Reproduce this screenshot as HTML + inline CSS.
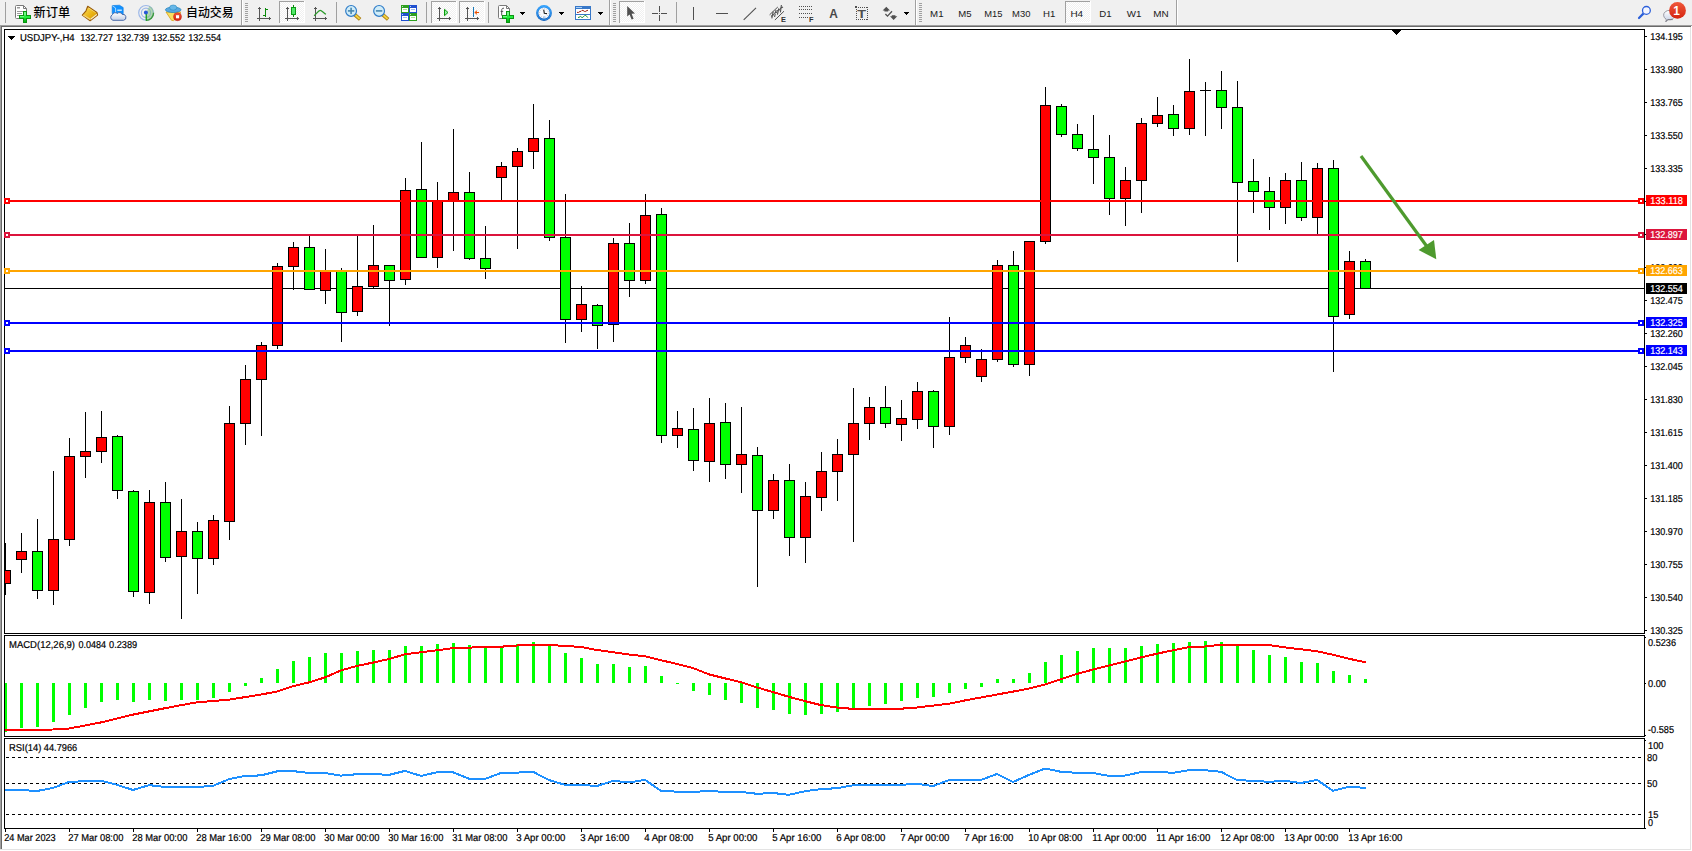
<!DOCTYPE html>
<html lang="zh-CN"><head><meta charset="utf-8"><title>USDJPY-,H4</title>
<style>
html,body{margin:0;padding:0;}
body{width:1692px;height:851px;overflow:hidden;background:#fff;position:relative;font-family:'Liberation Sans', 'Noto Sans CJK SC', sans-serif;}
#tb{position:absolute;left:0;top:0;width:1692px;height:25px;background:#f0f0f0;}
</style></head><body>
<div id="tb">
<svg width="1692" height="25" viewBox="0 0 1692 25" style="position:absolute;left:0;top:0" shape-rendering="crispEdges">
<defs>
<linearGradient id="gplus" x1="0" y1="0" x2="0" y2="1"><stop offset="0" stop-color="#7dff8a"/><stop offset="0.5" stop-color="#10e428"/><stop offset="1" stop-color="#08b418"/></linearGradient>
<linearGradient id="ggold" x1="0" y1="0" x2="1" y2="1"><stop offset="0" stop-color="#ffe060"/><stop offset="0.6" stop-color="#e8b010"/><stop offset="1" stop-color="#c88a10"/></linearGradient>
<linearGradient id="gcloud" x1="0" y1="0" x2="0" y2="1"><stop offset="0" stop-color="#ffffff"/><stop offset="1" stop-color="#c4cfe4"/></linearGradient>
<linearGradient id="gred" x1="0" y1="0" x2="0" y2="1"><stop offset="0" stop-color="#f0583a"/><stop offset="1" stop-color="#d42410"/></linearGradient>
<linearGradient id="gclock" x1="0" y1="0" x2="0" y2="1"><stop offset="0" stop-color="#2ea0ff"/><stop offset="1" stop-color="#0450b0"/></linearGradient>
<pattern id="dith" width="2" height="2" patternUnits="userSpaceOnUse"><rect width="2" height="2" fill="#f0f0f0"/><rect width="1" height="1" fill="#fff"/><rect x="1" y="1" width="1" height="1" fill="#fff"/></pattern>
</defs>
<rect x="5" y="2" width="1" height="21" fill="#a0a0a0"/>
<g shape-rendering="geometricPrecision">
<path d="M16.5,5.5h7l3,3v10h-10a1,1 0 0 1 -1,-1v-11a1,1 0 0 1 1,-1z" fill="#fff" stroke="#7a7a7a"/>
<path d="M23.5,5.5v3h3" fill="none" stroke="#7a7a7a"/>
<rect x="17" y="7" width="3" height="1.5" fill="#999"/><rect x="17" y="11" width="6" height="1" fill="#999"/><rect x="17" y="13" width="5" height="1" fill="#999"/><rect x="17" y="15" width="3" height="1" fill="#999"/>
</g>
<rect x="23" y="11" width="4" height="12" fill="#0c9412"/><rect x="19" y="15" width="12" height="4" fill="#0c9412"/>
<rect x="24" y="12" width="2" height="10" fill="url(#gplus)"/><rect x="20" y="16" width="10" height="2" fill="#22ee3c"/>
<rect x="24" y="12" width="2" height="3" fill="#70f884"/><rect x="20" y="16" width="4" height="1" fill="#70f884"/>
<g shape-rendering="geometricPrecision">
<path d="M87.7,6.3 L96.9,12.5 L97.6,15 L90.1,20.7 L82.3,15.1 L86,10.8 Z" fill="url(#ggold)" stroke="#9a5c0a" stroke-width="1.1" stroke-linejoin="round"/>
<path d="M83.2,14.6 L90.3,18.4 L89.9,20 L82.9,15.4 Z" fill="#f4d478"/>
<path d="M90.6,18.6 L96.8,13.8 L97,15 L90.6,19.9 Z" fill="#f6ecc8"/>
<path d="M87.9,7.4 L95.6,12.6" fill="none" stroke="#fff2a0" stroke-width="0.8" stroke-opacity="0.7"/>
</g>
<g shape-rendering="geometricPrecision">
<path d="M112.2,5.6 L119.5,5.2 L123.2,7.5 L123.2,15 L115.5,15 L112.2,13.5 Z" fill="#1292ff" stroke="#0a78e0" stroke-width="0.6"/>
<path d="M112.4,5.8 L115.6,8 L115.6,15" fill="none" stroke="#c8e8ff" stroke-width="0.8"/>
<rect x="117.3" y="9.6" width="4.5" height="1.2" fill="#e8f4ff"/>
<path d="M113,20.3 a3,3 0 0 1 -0.6,-5.6 a3.2,3.2 0 0 1 5,-1.3 a3,3 0 0 1 4.8,1 a2.9,2.9 0 0 1 1.4,5.9 z" fill="url(#gcloud)" stroke="#4a6aa8" stroke-width="1"/>
</g>
<g shape-rendering="geometricPrecision">
<circle cx="146" cy="12.8" r="7.3" fill="none" stroke="#9db8e8" stroke-width="1.2"/>
<circle cx="146" cy="12.8" r="4.6" fill="none" stroke="#9db8e8" stroke-width="1.2"/>
<path d="M146,12.8 L146,20.6 A7.8,7.8 0 0 0 153.8,12.8 A7.8,7.8 0 0 0 149.5,5.9 Z" fill="#7fc07f" fill-opacity="0.55"/>
<path d="M146,20.4 A7.6,7.6 0 0 0 153.6,12.8" fill="none" stroke="#3a9a3a" stroke-width="1.3"/>
<rect x="145.6" y="13" width="1.3" height="7.6" fill="#18a018"/>
<circle cx="145.9" cy="12.6" r="2" fill="#2858d8"/>
</g>
<g shape-rendering="geometricPrecision">
<path d="M166,12 L180.6,12 L179,16 L173.5,20.6 L171.5,20.3 Z" fill="#f8e060" stroke="#d8a010" stroke-width="0.8"/>
<ellipse cx="173.2" cy="9.8" rx="7.8" ry="2.7" fill="#58a8e0" stroke="#2888c0" stroke-width="0.8"/>
<ellipse cx="173.2" cy="7.6" rx="3.6" ry="2.6" fill="#68b8e8" stroke="#2888c0" stroke-width="0.6"/>
<circle cx="177.5" cy="16.7" r="4" fill="url(#gred)" stroke="#c02010" stroke-width="0.5"/>
<rect x="176" y="15.2" width="3.1" height="3.1" fill="#fff"/>
</g>
<rect x="241" y="0" width="1" height="25" fill="#a0a0a0"/><rect x="242" y="0" width="1" height="25" fill="#fff"/>
<rect x="245" y="3" width="3" height="1" fill="#a0a0a0"/>
<rect x="245" y="5" width="3" height="1" fill="#a0a0a0"/>
<rect x="245" y="7" width="3" height="1" fill="#a0a0a0"/>
<rect x="245" y="9" width="3" height="1" fill="#a0a0a0"/>
<rect x="245" y="11" width="3" height="1" fill="#a0a0a0"/>
<rect x="245" y="13" width="3" height="1" fill="#a0a0a0"/>
<rect x="245" y="15" width="3" height="1" fill="#a0a0a0"/>
<rect x="245" y="17" width="3" height="1" fill="#a0a0a0"/>
<rect x="245" y="19" width="3" height="1" fill="#a0a0a0"/>
<rect x="245" y="21" width="3" height="1" fill="#a0a0a0"/>
<rect x="259" y="7" width="1" height="14" fill="#555"/><rect x="258" y="8" width="3" height="1" fill="#555"/>
<rect x="257" y="18" width="14" height="1" fill="#555"/><rect x="269" y="17" width="1" height="3" fill="#555"/>
<rect x="265" y="8" width="1" height="9" fill="#0a8a0a"/><rect x="265" y="9" width="3" height="1" fill="#0a8a0a"/><rect x="263" y="15" width="3" height="1" fill="#0a8a0a"/>
<rect x="279" y="1" width="25" height="22" fill="url(#dith)"/>
<rect x="279" y="22" width="26" height="1" fill="#fff"/><rect x="304" y="1" width="1" height="22" fill="#fff"/>
<rect x="279" y="1" width="25" height="1" fill="#a0a0a0"/><rect x="279" y="1" width="1" height="22" fill="#a0a0a0"/>
<rect x="287" y="7" width="1" height="14" fill="#555"/><rect x="286" y="8" width="3" height="1" fill="#555"/>
<rect x="285" y="18" width="14" height="1" fill="#555"/><rect x="297" y="17" width="1" height="3" fill="#555"/>
<rect x="293" y="5" width="1" height="12" fill="#0a8a0a"/><rect x="291" y="7" width="5" height="8" fill="#0a9a14"/><rect x="292" y="8" width="3" height="6" fill="#50e868"/>
<rect x="315" y="7" width="1" height="14" fill="#555"/><rect x="314" y="8" width="3" height="1" fill="#555"/>
<rect x="313" y="18" width="14" height="1" fill="#555"/><rect x="325" y="17" width="1" height="3" fill="#555"/>
<path shape-rendering="geometricPrecision" d="M314,15.7 C316,15 318,10.4 320.2,10.4 C322,10.4 324,13.6 326,14.2" fill="none" stroke="#2a9a2a" stroke-width="1.2"/>
<rect x="336" y="2" width="1" height="21" fill="#a0a0a0"/>
<g shape-rendering="geometricPrecision">
<path d="M354.70000000000005,14.6 L360.1,19.4" stroke="#a87808" stroke-width="3.6" stroke-linecap="butt"/>
<path d="M355.3,15.1 L359.70000000000005,19" stroke="#f0d040" stroke-width="2" stroke-linecap="butt"/>
<circle cx="351.1" cy="10.9" r="5.4" fill="#d0ecf8" stroke="#2e7cc8" stroke-width="1.2"/>
<rect x="347.90000000000003" y="10.1" width="6.4" height="1.6" fill="#4888b0"/>
<rect x="350.3" y="7.7" width="1.6" height="6.4" fill="#4888b0"/>
</g>
<g shape-rendering="geometricPrecision">
<path d="M382.70000000000005,14.6 L388.1,19.4" stroke="#a87808" stroke-width="3.6" stroke-linecap="butt"/>
<path d="M383.3,15.1 L387.70000000000005,19" stroke="#f0d040" stroke-width="2" stroke-linecap="butt"/>
<circle cx="379.1" cy="10.9" r="5.4" fill="#d0ecf8" stroke="#2e7cc8" stroke-width="1.2"/>
<rect x="375.90000000000003" y="10.1" width="6.4" height="1.6" fill="#4888b0"/>
</g>
<rect x="401" y="5" width="8" height="8" fill="#2ea020"/>
<rect x="402" y="8" width="6" height="4" fill="#fff"/>
<rect x="403" y="9" width="4" height="1" fill="#a8e090"/>
<rect x="402" y="6" width="1" height="1" fill="#fff" fill-opacity="0.7"/>
<rect x="409" y="5" width="8" height="8" fill="#2050d0"/>
<rect x="410" y="8" width="6" height="4" fill="#fff"/>
<rect x="411" y="9" width="4" height="1" fill="#a0b8f0"/>
<rect x="410" y="6" width="1" height="1" fill="#fff" fill-opacity="0.7"/>
<rect x="401" y="13" width="8" height="8" fill="#2050d0"/>
<rect x="402" y="16" width="6" height="4" fill="#fff"/>
<rect x="403" y="17" width="4" height="1" fill="#a0b8f0"/>
<rect x="402" y="14" width="1" height="1" fill="#fff" fill-opacity="0.7"/>
<rect x="409" y="13" width="8" height="8" fill="#2ea020"/>
<rect x="410" y="16" width="6" height="4" fill="#fff"/>
<rect x="411" y="17" width="4" height="1" fill="#a8e090"/>
<rect x="410" y="14" width="1" height="1" fill="#fff" fill-opacity="0.7"/>
<rect x="426" y="2" width="1" height="21" fill="#a0a0a0"/>
<rect x="431" y="1" width="25" height="22" fill="url(#dith)"/>
<rect x="431" y="22" width="26" height="1" fill="#fff"/><rect x="456" y="1" width="1" height="22" fill="#fff"/>
<rect x="431" y="1" width="25" height="1" fill="#a0a0a0"/><rect x="431" y="1" width="1" height="22" fill="#a0a0a0"/>
<rect x="439" y="7" width="1" height="14" fill="#555"/><rect x="438" y="8" width="3" height="1" fill="#555"/>
<rect x="437" y="18" width="14" height="1" fill="#555"/><rect x="449" y="17" width="1" height="3" fill="#555"/>
<path shape-rendering="geometricPrecision" d="M444.5,9.3 L448,12.5 L444.5,15.7 Z" fill="#90f0a0" stroke="#0a9a0a" stroke-width="1"/>
<rect x="459" y="1" width="25" height="22" fill="url(#dith)"/>
<rect x="459" y="22" width="26" height="1" fill="#fff"/><rect x="484" y="1" width="1" height="22" fill="#fff"/>
<rect x="459" y="1" width="25" height="1" fill="#a0a0a0"/><rect x="459" y="1" width="1" height="22" fill="#a0a0a0"/>
<rect x="467" y="7" width="1" height="14" fill="#555"/><rect x="466" y="8" width="3" height="1" fill="#555"/>
<rect x="465" y="18" width="14" height="1" fill="#555"/><rect x="477" y="17" width="1" height="3" fill="#555"/>
<rect x="473" y="7" width="1" height="10" fill="#1878b8"/>
<path shape-rendering="geometricPrecision" d="M474.3,12.5 L477.2,10 L476.6,12 L479,12 L479,13 L476.6,13 L477.2,15 Z" fill="#e85000"/>
<rect x="488" y="2" width="1" height="21" fill="#a0a0a0"/>
<g shape-rendering="geometricPrecision">
<path d="M499.5,5.5h7l3,3v10h-10a1,1 0 0 1 -1,-1v-11a1,1 0 0 1 1,-1z" fill="#fff" stroke="#7a7a7a"/>
<path d="M506.5,5.5v3h3" fill="none" stroke="#7a7a7a"/>
<path d="M504,8.2 c-1.8,-0.2 -2.3,0.8 -2.3,2.2 v5.2 M500.6,11.4 h2.6" fill="none" stroke="#444" stroke-width="0.9"/>
</g>
<rect x="506" y="11" width="4" height="12" fill="#0c9412"/><rect x="502" y="15" width="12" height="4" fill="#0c9412"/>
<rect x="507" y="12" width="2" height="10" fill="url(#gplus)"/><rect x="503" y="16" width="10" height="2" fill="#22ee3c"/>
<rect x="507" y="12" width="2" height="3" fill="#70f884"/><rect x="503" y="16" width="4" height="1" fill="#70f884"/>
<rect x="520" y="12" width="5" height="1" fill="#000"/><rect x="521" y="13" width="3" height="1" fill="#000"/><rect x="522" y="14" width="1" height="1" fill="#000"/>
<g shape-rendering="geometricPrecision">
<circle cx="544" cy="13" r="7.9" fill="url(#gclock)"/>
<circle cx="544" cy="13" r="6.9" fill="none" stroke="#4ab0ff" stroke-width="0.8" stroke-opacity="0.7"/>
<circle cx="544" cy="13" r="5.6" fill="#f6f8fc"/>
<circle cx="544" cy="13" r="4.4" fill="none" stroke="#a8a8b0" stroke-width="0.9" stroke-dasharray="0.7 1.6"/>
<path d="M543.7,9.6 L544.3,13.2 L547,13.6" fill="none" stroke="#202020" stroke-width="1.1"/>
<rect x="543.2" y="16.6" width="1.8" height="0.8" fill="#60a8f0"/>
</g>
<rect x="559" y="12" width="5" height="1" fill="#000"/><rect x="560" y="13" width="3" height="1" fill="#000"/><rect x="561" y="14" width="1" height="1" fill="#000"/>
<rect x="575" y="6" width="16" height="14" fill="#3878c8"/>
<rect x="576" y="9" width="14" height="5" fill="#fff"/><rect x="576" y="15" width="14" height="4" fill="#fff"/>
<rect x="576" y="7" width="6" height="1" fill="#a8d0f8"/>
<path shape-rendering="geometricPrecision" d="M577,12.4 h1.6 l1.4,-1 h1 l1,-1 h1 l1.4,1 h1.4 l1.2,-1 h1" fill="none" stroke="#a02010" stroke-width="1"/>
<path shape-rendering="geometricPrecision" d="M578,17.4 h1 l1.4,-1 l1.4,1 h1 l2,-2 h1 l2,2.2" fill="none" stroke="#18902a" stroke-width="1"/>
<rect x="598" y="12" width="5" height="1" fill="#000"/><rect x="599" y="13" width="3" height="1" fill="#000"/><rect x="600" y="14" width="1" height="1" fill="#000"/>
<rect x="609" y="0" width="1" height="25" fill="#a0a0a0"/><rect x="610" y="0" width="1" height="25" fill="#fff"/>
<rect x="613" y="3" width="3" height="1" fill="#a0a0a0"/>
<rect x="613" y="5" width="3" height="1" fill="#a0a0a0"/>
<rect x="613" y="7" width="3" height="1" fill="#a0a0a0"/>
<rect x="613" y="9" width="3" height="1" fill="#a0a0a0"/>
<rect x="613" y="11" width="3" height="1" fill="#a0a0a0"/>
<rect x="613" y="13" width="3" height="1" fill="#a0a0a0"/>
<rect x="613" y="15" width="3" height="1" fill="#a0a0a0"/>
<rect x="613" y="17" width="3" height="1" fill="#a0a0a0"/>
<rect x="613" y="19" width="3" height="1" fill="#a0a0a0"/>
<rect x="613" y="21" width="3" height="1" fill="#a0a0a0"/>
<rect x="619" y="1" width="25" height="22" fill="url(#dith)"/>
<rect x="619" y="22" width="26" height="1" fill="#fff"/><rect x="644" y="1" width="1" height="22" fill="#fff"/>
<rect x="619" y="1" width="25" height="1" fill="#a0a0a0"/><rect x="619" y="1" width="1" height="22" fill="#a0a0a0"/>
<path shape-rendering="geometricPrecision" d="M627.2,6 L627.2,16.6 L629.6,14.4 L631.6,19.6 L633.6,18.8 L631.6,13.8 L635,13.6 Z" fill="#505050"/>
<rect x="659" y="6" width="1" height="6" fill="#505050"/><rect x="659" y="15" width="1" height="6" fill="#505050"/><rect x="652" y="13" width="6" height="1" fill="#505050"/><rect x="661" y="13" width="6" height="1" fill="#505050"/><rect x="659" y="13" width="1" height="1" fill="#505050"/>
<rect x="676" y="2" width="1" height="21" fill="#a0a0a0"/>
<rect x="693" y="7" width="1" height="13" fill="#505050"/>
<rect x="716" y="13" width="12" height="1" fill="#505050"/>
<path shape-rendering="geometricPrecision" d="M743.7,19.8 L756,7.8" stroke="#505050" stroke-width="1.1"/>
<g shape-rendering="geometricPrecision">
<path d="M769.6,14.8 L777.8,7 M774.9,20 L784,11.2" stroke="#505050" stroke-width="1"/>
<path d="M771.8,18.4 L773.2,11.6 M774.6,17 L776,10 M777.4,14.6 L778.8,8.4 M780.4,12.4 L781.4,5 M771,16.2 L774,14.6 M774,13.6 L777,12 M777,11 L780,9.4 M780,8.6 L783,7" fill="none" stroke="#505050" stroke-width="1.1"/>
</g>
<rect x="799" y="6" width="1" height="1" fill="#505050"/>
<rect x="801" y="6" width="1" height="1" fill="#505050"/>
<rect x="803" y="6" width="1" height="1" fill="#505050"/>
<rect x="805" y="6" width="1" height="1" fill="#505050"/>
<rect x="807" y="6" width="1" height="1" fill="#505050"/>
<rect x="809" y="6" width="1" height="1" fill="#505050"/>
<rect x="811" y="6" width="1" height="1" fill="#505050"/>
<rect x="799" y="9" width="1" height="1" fill="#505050"/>
<rect x="801" y="9" width="1" height="1" fill="#505050"/>
<rect x="803" y="9" width="1" height="1" fill="#505050"/>
<rect x="805" y="9" width="1" height="1" fill="#505050"/>
<rect x="807" y="9" width="1" height="1" fill="#505050"/>
<rect x="809" y="9" width="1" height="1" fill="#505050"/>
<rect x="811" y="9" width="1" height="1" fill="#505050"/>
<rect x="799" y="13" width="1" height="1" fill="#505050"/>
<rect x="801" y="13" width="1" height="1" fill="#505050"/>
<rect x="803" y="13" width="1" height="1" fill="#505050"/>
<rect x="805" y="13" width="1" height="1" fill="#505050"/>
<rect x="807" y="13" width="1" height="1" fill="#505050"/>
<rect x="809" y="13" width="1" height="1" fill="#505050"/>
<rect x="811" y="13" width="1" height="1" fill="#505050"/>
<rect x="799" y="17" width="1" height="1" fill="#505050"/>
<rect x="801" y="17" width="1" height="1" fill="#505050"/>
<rect x="803" y="17" width="1" height="1" fill="#505050"/>
<rect x="805" y="17" width="1" height="1" fill="#505050"/>
<rect x="807" y="17" width="1" height="1" fill="#505050"/>
<rect x="856" y="7" width="1" height="1" fill="#505050"/><rect x="856" y="19" width="1" height="1" fill="#505050"/>
<rect x="858" y="7" width="1" height="1" fill="#505050"/><rect x="858" y="19" width="1" height="1" fill="#505050"/>
<rect x="860" y="7" width="1" height="1" fill="#505050"/><rect x="860" y="19" width="1" height="1" fill="#505050"/>
<rect x="862" y="7" width="1" height="1" fill="#505050"/><rect x="862" y="19" width="1" height="1" fill="#505050"/>
<rect x="864" y="7" width="1" height="1" fill="#505050"/><rect x="864" y="19" width="1" height="1" fill="#505050"/>
<rect x="866" y="7" width="1" height="1" fill="#505050"/><rect x="866" y="19" width="1" height="1" fill="#505050"/>
<rect x="856" y="7" width="1" height="1" fill="#505050"/><rect x="867" y="7" width="1" height="1" fill="#505050"/>
<rect x="856" y="9" width="1" height="1" fill="#505050"/><rect x="867" y="9" width="1" height="1" fill="#505050"/>
<rect x="856" y="11" width="1" height="1" fill="#505050"/><rect x="867" y="11" width="1" height="1" fill="#505050"/>
<rect x="856" y="13" width="1" height="1" fill="#505050"/><rect x="867" y="13" width="1" height="1" fill="#505050"/>
<rect x="856" y="15" width="1" height="1" fill="#505050"/><rect x="867" y="15" width="1" height="1" fill="#505050"/>
<rect x="856" y="17" width="1" height="1" fill="#505050"/><rect x="867" y="17" width="1" height="1" fill="#505050"/>
<rect x="856" y="19" width="1" height="1" fill="#505050"/><rect x="867" y="19" width="1" height="1" fill="#505050"/>
<rect x="855" y="6" width="2" height="2" fill="#505050"/>
<g shape-rendering="geometricPrecision">
<path d="M882.6,10.6 L886.3,6.8 L890,10.6 L888.2,10.6 L888.2,11.6 L884.4,11.6 L884.4,10.6 Z" fill="#505050"/>
<path d="M890,16.2 L893.6,20 L897.3,16.2 L895.4,16.2 L895.4,15.2 L891.8,15.2 L891.8,16.2 Z" fill="#505050"/>
<path d="M885.4,14 L887.5,16.1 L892,11.3" fill="none" stroke="#505050" stroke-width="1.3"/>
</g>
<rect x="904" y="12" width="5" height="1" fill="#000"/><rect x="905" y="13" width="3" height="1" fill="#000"/><rect x="906" y="14" width="1" height="1" fill="#000"/>
<rect x="915" y="0" width="1" height="25" fill="#a0a0a0"/><rect x="916" y="0" width="1" height="25" fill="#fff"/>
<rect x="919" y="3" width="3" height="1" fill="#a0a0a0"/>
<rect x="919" y="5" width="3" height="1" fill="#a0a0a0"/>
<rect x="919" y="7" width="3" height="1" fill="#a0a0a0"/>
<rect x="919" y="9" width="3" height="1" fill="#a0a0a0"/>
<rect x="919" y="11" width="3" height="1" fill="#a0a0a0"/>
<rect x="919" y="13" width="3" height="1" fill="#a0a0a0"/>
<rect x="919" y="15" width="3" height="1" fill="#a0a0a0"/>
<rect x="919" y="17" width="3" height="1" fill="#a0a0a0"/>
<rect x="919" y="19" width="3" height="1" fill="#a0a0a0"/>
<rect x="919" y="21" width="3" height="1" fill="#a0a0a0"/>
<rect x="1065" y="1" width="25" height="22" fill="url(#dith)"/>
<rect x="1065" y="22" width="26" height="1" fill="#fff"/><rect x="1090" y="1" width="1" height="22" fill="#fff"/>
<rect x="1065" y="1" width="25" height="1" fill="#a0a0a0"/><rect x="1065" y="1" width="1" height="22" fill="#a0a0a0"/>
<rect x="1176" y="0" width="1" height="25" fill="#a0a0a0"/><rect x="1177" y="0" width="1" height="25" fill="#fff"/>
<g shape-rendering="geometricPrecision">
<path d="M1643.6,13.4 L1639,18" stroke="#2b5fd9" stroke-width="2.2" stroke-linecap="round"/>
<circle cx="1646.4" cy="10.4" r="3.9" fill="#f4f6ff" stroke="#2b5fd9" stroke-width="1.3"/>
<path d="M1663.6,15.2 a5.6,4.7 0 1 1 4.4,4.5 l-1.8,2 l-0.1,-2.6 a5,4.5 0 0 1 -2.5,-3.9z" fill="url(#gcloud)" stroke="#9a9aa4" stroke-width="1"/>
<path d="M1665.4,21.6 l2.4,-2 h5" fill="none" stroke="#787880" stroke-width="0.9"/>
<circle cx="1677.5" cy="10.4" r="8.4" fill="url(#gred)"/>
</g>
<g shape-rendering="geometricPrecision" font-family="'Liberation Sans','Noto Sans CJK SC',sans-serif">
<text x="33.6" y="16.6" font-size="12px" font-weight="500" fill="#000" textLength="36.6" lengthAdjust="spacingAndGlyphs">新订单</text>
<text x="186" y="16.6" font-size="12px" font-weight="500" fill="#000" textLength="47.6" lengthAdjust="spacingAndGlyphs">自动交易</text>
<text x="781" y="21.8" font-size="7.4px" font-weight="bold" fill="#303030">E</text>
<text x="809" y="21.8" font-size="7.4px" font-weight="bold" fill="#303030">F</text>
<text x="857.2" y="18" font-size="11.5px" font-weight="bold" fill="#505050" textLength="8.8" lengthAdjust="spacingAndGlyphs">T</text>
<text x="829.3" y="18" font-size="12.5px" font-weight="bold" fill="#484848" textLength="8.6" lengthAdjust="spacingAndGlyphs">A</text>
<text x="930.1" y="17" font-size="9.6px" fill="#202020" textLength="13.4" lengthAdjust="spacingAndGlyphs">M1</text>
<text x="958.3" y="17" font-size="9.6px" fill="#202020" textLength="13.3" lengthAdjust="spacingAndGlyphs">M5</text>
<text x="984.2" y="17" font-size="9.6px" fill="#202020" textLength="18.2" lengthAdjust="spacingAndGlyphs">M15</text>
<text x="1012.1" y="17" font-size="9.6px" fill="#202020" textLength="18.3" lengthAdjust="spacingAndGlyphs">M30</text>
<text x="1043.1" y="17" font-size="9.6px" fill="#202020" textLength="12.3" lengthAdjust="spacingAndGlyphs">H1</text>
<text x="1070.4" y="17" font-size="9.6px" fill="#202020" textLength="12.7" lengthAdjust="spacingAndGlyphs">H4</text>
<text x="1099.2" y="17" font-size="9.6px" fill="#202020" textLength="12.3" lengthAdjust="spacingAndGlyphs">D1</text>
<text x="1126.8" y="17" font-size="9.6px" fill="#202020" textLength="14.7" lengthAdjust="spacingAndGlyphs">W1</text>
<text x="1153.2" y="17" font-size="9.6px" fill="#202020" textLength="15.4" lengthAdjust="spacingAndGlyphs">MN</text>
<text x="1673.2" y="14.8" font-size="12.5px" font-weight="bold" fill="#fff" textLength="6.6" lengthAdjust="spacingAndGlyphs">1</text>
</g>
</svg>
</div>
<svg id="chart" width="1692" height="851" viewBox="0 0 1692 851" shape-rendering="crispEdges" style="position:absolute;left:0;top:0">
<rect x="0" y="25" width="1692" height="1" fill="#a0a0a0"/>
<rect x="0" y="25" width="1" height="825" fill="#a0a0a0"/>
<rect x="1" y="26" width="1690" height="1" fill="#696969"/>
<rect x="1" y="26" width="1" height="823" fill="#696969"/>
<rect x="1690" y="27" width="1" height="823" fill="#e3e3e3"/>
<rect x="0" y="849" width="1691" height="1" fill="#e3e3e3"/>
<rect x="4" y="29" width="1641" height="1" fill="#000"/><rect x="4" y="633" width="1641" height="1" fill="#000"/><rect x="4" y="29" width="1" height="605" fill="#000"/><rect x="1644" y="29" width="1" height="605" fill="#000"/>
<rect x="4" y="635" width="1641" height="1" fill="#000"/><rect x="4" y="736" width="1641" height="1" fill="#000"/><rect x="4" y="635" width="1" height="102" fill="#000"/><rect x="1644" y="635" width="1" height="102" fill="#000"/>
<rect x="4" y="738" width="1641" height="1" fill="#000"/><rect x="4" y="828" width="1641" height="1" fill="#000"/><rect x="4" y="738" width="1" height="91" fill="#000"/><rect x="1644" y="738" width="1" height="91" fill="#000"/>
<clipPath id="cm"><rect x="5" y="30" width="1639" height="603"/></clipPath>
<g clip-path="url(#cm)">
<rect x="5" y="288" width="1639" height="1" fill="#000"/>
<rect x="5" y="543" width="1" height="52" fill="#000"/>
<rect x="0" y="570" width="11" height="14" fill="#000"/>
<rect x="1" y="571" width="9" height="12" fill="#ff0000"/>
<rect x="21" y="533" width="1" height="40" fill="#000"/>
<rect x="16" y="551" width="11" height="9" fill="#000"/>
<rect x="17" y="552" width="9" height="7" fill="#ff0000"/>
<rect x="37" y="519" width="1" height="80" fill="#000"/>
<rect x="32" y="551" width="11" height="40" fill="#000"/>
<rect x="33" y="552" width="9" height="38" fill="#00ff00"/>
<rect x="53" y="471" width="1" height="134" fill="#000"/>
<rect x="48" y="539" width="11" height="52" fill="#000"/>
<rect x="49" y="540" width="9" height="50" fill="#ff0000"/>
<rect x="69" y="438" width="1" height="108" fill="#000"/>
<rect x="64" y="456" width="11" height="84" fill="#000"/>
<rect x="65" y="457" width="9" height="82" fill="#ff0000"/>
<rect x="85" y="412" width="1" height="66" fill="#000"/>
<rect x="80" y="451" width="11" height="6" fill="#000"/>
<rect x="81" y="452" width="9" height="4" fill="#ff0000"/>
<rect x="101" y="411" width="1" height="52" fill="#000"/>
<rect x="96" y="437" width="11" height="15" fill="#000"/>
<rect x="97" y="438" width="9" height="13" fill="#ff0000"/>
<rect x="117" y="435" width="1" height="64" fill="#000"/>
<rect x="112" y="436" width="11" height="55" fill="#000"/>
<rect x="113" y="437" width="9" height="53" fill="#00ff00"/>
<rect x="133" y="490" width="1" height="107" fill="#000"/>
<rect x="128" y="491" width="11" height="101" fill="#000"/>
<rect x="129" y="492" width="9" height="99" fill="#00ff00"/>
<rect x="149" y="490" width="1" height="114" fill="#000"/>
<rect x="144" y="502" width="11" height="91" fill="#000"/>
<rect x="145" y="503" width="9" height="89" fill="#ff0000"/>
<rect x="165" y="482" width="1" height="80" fill="#000"/>
<rect x="160" y="502" width="11" height="56" fill="#000"/>
<rect x="161" y="503" width="9" height="54" fill="#00ff00"/>
<rect x="181" y="499" width="1" height="120" fill="#000"/>
<rect x="176" y="531" width="11" height="26" fill="#000"/>
<rect x="177" y="532" width="9" height="24" fill="#ff0000"/>
<rect x="197" y="522" width="1" height="72" fill="#000"/>
<rect x="192" y="531" width="11" height="28" fill="#000"/>
<rect x="193" y="532" width="9" height="26" fill="#00ff00"/>
<rect x="213" y="515" width="1" height="50" fill="#000"/>
<rect x="208" y="520" width="11" height="39" fill="#000"/>
<rect x="209" y="521" width="9" height="37" fill="#ff0000"/>
<rect x="229" y="406" width="1" height="134" fill="#000"/>
<rect x="224" y="423" width="11" height="99" fill="#000"/>
<rect x="225" y="424" width="9" height="97" fill="#ff0000"/>
<rect x="245" y="365" width="1" height="80" fill="#000"/>
<rect x="240" y="379" width="11" height="45" fill="#000"/>
<rect x="241" y="380" width="9" height="43" fill="#ff0000"/>
<rect x="261" y="342" width="1" height="94" fill="#000"/>
<rect x="256" y="345" width="11" height="35" fill="#000"/>
<rect x="257" y="346" width="9" height="33" fill="#ff0000"/>
<rect x="277" y="263" width="1" height="86" fill="#000"/>
<rect x="272" y="266" width="11" height="80" fill="#000"/>
<rect x="273" y="267" width="9" height="78" fill="#ff0000"/>
<rect x="293" y="242" width="1" height="48" fill="#000"/>
<rect x="288" y="247" width="11" height="20" fill="#000"/>
<rect x="289" y="248" width="9" height="18" fill="#ff0000"/>
<rect x="309" y="236" width="1" height="54" fill="#000"/>
<rect x="304" y="247" width="11" height="43" fill="#000"/>
<rect x="305" y="248" width="9" height="41" fill="#00ff00"/>
<rect x="325" y="249" width="1" height="55" fill="#000"/>
<rect x="320" y="271" width="11" height="20" fill="#000"/>
<rect x="321" y="272" width="9" height="18" fill="#ff0000"/>
<rect x="341" y="268" width="1" height="74" fill="#000"/>
<rect x="336" y="271" width="11" height="42" fill="#000"/>
<rect x="337" y="272" width="9" height="40" fill="#00ff00"/>
<rect x="357" y="235" width="1" height="81" fill="#000"/>
<rect x="352" y="286" width="11" height="26" fill="#000"/>
<rect x="353" y="287" width="9" height="24" fill="#ff0000"/>
<rect x="373" y="225" width="1" height="64" fill="#000"/>
<rect x="368" y="265" width="11" height="22" fill="#000"/>
<rect x="369" y="266" width="9" height="20" fill="#ff0000"/>
<rect x="389" y="265" width="1" height="61" fill="#000"/>
<rect x="384" y="265" width="11" height="16" fill="#000"/>
<rect x="385" y="266" width="9" height="14" fill="#00ff00"/>
<rect x="405" y="178" width="1" height="107" fill="#000"/>
<rect x="400" y="190" width="11" height="90" fill="#000"/>
<rect x="401" y="191" width="9" height="88" fill="#ff0000"/>
<rect x="421" y="142" width="1" height="116" fill="#000"/>
<rect x="416" y="189" width="11" height="69" fill="#000"/>
<rect x="417" y="190" width="9" height="67" fill="#00ff00"/>
<rect x="437" y="182" width="1" height="86" fill="#000"/>
<rect x="432" y="200" width="11" height="58" fill="#000"/>
<rect x="433" y="201" width="9" height="56" fill="#ff0000"/>
<rect x="453" y="129" width="1" height="122" fill="#000"/>
<rect x="448" y="192" width="11" height="9" fill="#000"/>
<rect x="449" y="193" width="9" height="7" fill="#ff0000"/>
<rect x="469" y="172" width="1" height="88" fill="#000"/>
<rect x="464" y="192" width="11" height="67" fill="#000"/>
<rect x="465" y="193" width="9" height="65" fill="#00ff00"/>
<rect x="485" y="226" width="1" height="53" fill="#000"/>
<rect x="480" y="258" width="11" height="11" fill="#000"/>
<rect x="481" y="259" width="9" height="9" fill="#00ff00"/>
<rect x="501" y="162" width="1" height="39" fill="#000"/>
<rect x="496" y="166" width="11" height="12" fill="#000"/>
<rect x="497" y="167" width="9" height="10" fill="#ff0000"/>
<rect x="517" y="148" width="1" height="101" fill="#000"/>
<rect x="512" y="151" width="11" height="16" fill="#000"/>
<rect x="513" y="152" width="9" height="14" fill="#ff0000"/>
<rect x="533" y="104" width="1" height="65" fill="#000"/>
<rect x="528" y="138" width="11" height="14" fill="#000"/>
<rect x="529" y="139" width="9" height="12" fill="#ff0000"/>
<rect x="549" y="120" width="1" height="121" fill="#000"/>
<rect x="544" y="138" width="11" height="100" fill="#000"/>
<rect x="545" y="139" width="9" height="98" fill="#00ff00"/>
<rect x="565" y="194" width="1" height="149" fill="#000"/>
<rect x="560" y="237" width="11" height="83" fill="#000"/>
<rect x="561" y="238" width="9" height="81" fill="#00ff00"/>
<rect x="581" y="286" width="1" height="46" fill="#000"/>
<rect x="576" y="304" width="11" height="16" fill="#000"/>
<rect x="577" y="305" width="9" height="14" fill="#ff0000"/>
<rect x="597" y="304" width="1" height="45" fill="#000"/>
<rect x="592" y="305" width="11" height="21" fill="#000"/>
<rect x="593" y="306" width="9" height="19" fill="#00ff00"/>
<rect x="613" y="238" width="1" height="104" fill="#000"/>
<rect x="608" y="243" width="11" height="82" fill="#000"/>
<rect x="609" y="244" width="9" height="80" fill="#ff0000"/>
<rect x="629" y="223" width="1" height="74" fill="#000"/>
<rect x="624" y="243" width="11" height="38" fill="#000"/>
<rect x="625" y="244" width="9" height="36" fill="#00ff00"/>
<rect x="645" y="194" width="1" height="90" fill="#000"/>
<rect x="640" y="215" width="11" height="66" fill="#000"/>
<rect x="641" y="216" width="9" height="64" fill="#ff0000"/>
<rect x="661" y="208" width="1" height="235" fill="#000"/>
<rect x="656" y="214" width="11" height="222" fill="#000"/>
<rect x="657" y="215" width="9" height="220" fill="#00ff00"/>
<rect x="677" y="411" width="1" height="37" fill="#000"/>
<rect x="672" y="428" width="11" height="8" fill="#000"/>
<rect x="673" y="429" width="9" height="6" fill="#ff0000"/>
<rect x="693" y="408" width="1" height="63" fill="#000"/>
<rect x="688" y="429" width="11" height="32" fill="#000"/>
<rect x="689" y="430" width="9" height="30" fill="#00ff00"/>
<rect x="709" y="398" width="1" height="84" fill="#000"/>
<rect x="704" y="423" width="11" height="39" fill="#000"/>
<rect x="705" y="424" width="9" height="37" fill="#ff0000"/>
<rect x="725" y="403" width="1" height="76" fill="#000"/>
<rect x="720" y="422" width="11" height="43" fill="#000"/>
<rect x="721" y="423" width="9" height="41" fill="#00ff00"/>
<rect x="741" y="407" width="1" height="86" fill="#000"/>
<rect x="736" y="454" width="11" height="11" fill="#000"/>
<rect x="737" y="455" width="9" height="9" fill="#ff0000"/>
<rect x="757" y="447" width="1" height="140" fill="#000"/>
<rect x="752" y="455" width="11" height="56" fill="#000"/>
<rect x="753" y="456" width="9" height="54" fill="#00ff00"/>
<rect x="773" y="474" width="1" height="45" fill="#000"/>
<rect x="768" y="480" width="11" height="31" fill="#000"/>
<rect x="769" y="481" width="9" height="29" fill="#ff0000"/>
<rect x="789" y="464" width="1" height="92" fill="#000"/>
<rect x="784" y="480" width="11" height="58" fill="#000"/>
<rect x="785" y="481" width="9" height="56" fill="#00ff00"/>
<rect x="805" y="482" width="1" height="81" fill="#000"/>
<rect x="800" y="496" width="11" height="42" fill="#000"/>
<rect x="801" y="497" width="9" height="40" fill="#ff0000"/>
<rect x="821" y="452" width="1" height="59" fill="#000"/>
<rect x="816" y="471" width="11" height="27" fill="#000"/>
<rect x="817" y="472" width="9" height="25" fill="#ff0000"/>
<rect x="837" y="439" width="1" height="62" fill="#000"/>
<rect x="832" y="454" width="11" height="18" fill="#000"/>
<rect x="833" y="455" width="9" height="16" fill="#ff0000"/>
<rect x="853" y="388" width="1" height="154" fill="#000"/>
<rect x="848" y="423" width="11" height="32" fill="#000"/>
<rect x="849" y="424" width="9" height="30" fill="#ff0000"/>
<rect x="869" y="397" width="1" height="43" fill="#000"/>
<rect x="864" y="407" width="11" height="17" fill="#000"/>
<rect x="865" y="408" width="9" height="15" fill="#ff0000"/>
<rect x="885" y="386" width="1" height="42" fill="#000"/>
<rect x="880" y="407" width="11" height="17" fill="#000"/>
<rect x="881" y="408" width="9" height="15" fill="#00ff00"/>
<rect x="901" y="400" width="1" height="41" fill="#000"/>
<rect x="896" y="418" width="11" height="7" fill="#000"/>
<rect x="897" y="419" width="9" height="5" fill="#ff0000"/>
<rect x="917" y="382" width="1" height="47" fill="#000"/>
<rect x="912" y="391" width="11" height="29" fill="#000"/>
<rect x="913" y="392" width="9" height="27" fill="#ff0000"/>
<rect x="933" y="390" width="1" height="58" fill="#000"/>
<rect x="928" y="391" width="11" height="36" fill="#000"/>
<rect x="929" y="392" width="9" height="34" fill="#00ff00"/>
<rect x="949" y="317" width="1" height="118" fill="#000"/>
<rect x="944" y="357" width="11" height="70" fill="#000"/>
<rect x="945" y="358" width="9" height="68" fill="#ff0000"/>
<rect x="965" y="337" width="1" height="26" fill="#000"/>
<rect x="960" y="345" width="11" height="13" fill="#000"/>
<rect x="961" y="346" width="9" height="11" fill="#ff0000"/>
<rect x="981" y="349" width="1" height="33" fill="#000"/>
<rect x="976" y="359" width="11" height="18" fill="#000"/>
<rect x="977" y="360" width="9" height="16" fill="#ff0000"/>
<rect x="997" y="260" width="1" height="102" fill="#000"/>
<rect x="992" y="265" width="11" height="95" fill="#000"/>
<rect x="993" y="266" width="9" height="93" fill="#ff0000"/>
<rect x="1013" y="251" width="1" height="116" fill="#000"/>
<rect x="1008" y="265" width="11" height="100" fill="#000"/>
<rect x="1009" y="266" width="9" height="98" fill="#00ff00"/>
<rect x="1029" y="241" width="1" height="135" fill="#000"/>
<rect x="1024" y="241" width="11" height="124" fill="#000"/>
<rect x="1025" y="242" width="9" height="122" fill="#ff0000"/>
<rect x="1045" y="87" width="1" height="157" fill="#000"/>
<rect x="1040" y="105" width="11" height="137" fill="#000"/>
<rect x="1041" y="106" width="9" height="135" fill="#ff0000"/>
<rect x="1061" y="104" width="1" height="33" fill="#000"/>
<rect x="1056" y="106" width="11" height="29" fill="#000"/>
<rect x="1057" y="107" width="9" height="27" fill="#00ff00"/>
<rect x="1077" y="124" width="1" height="27" fill="#000"/>
<rect x="1072" y="134" width="11" height="15" fill="#000"/>
<rect x="1073" y="135" width="9" height="13" fill="#00ff00"/>
<rect x="1093" y="115" width="1" height="69" fill="#000"/>
<rect x="1088" y="149" width="11" height="9" fill="#000"/>
<rect x="1089" y="150" width="9" height="7" fill="#00ff00"/>
<rect x="1109" y="135" width="1" height="80" fill="#000"/>
<rect x="1104" y="157" width="11" height="42" fill="#000"/>
<rect x="1105" y="158" width="9" height="40" fill="#00ff00"/>
<rect x="1125" y="167" width="1" height="59" fill="#000"/>
<rect x="1120" y="180" width="11" height="19" fill="#000"/>
<rect x="1121" y="181" width="9" height="17" fill="#ff0000"/>
<rect x="1141" y="118" width="1" height="95" fill="#000"/>
<rect x="1136" y="123" width="11" height="58" fill="#000"/>
<rect x="1137" y="124" width="9" height="56" fill="#ff0000"/>
<rect x="1157" y="97" width="1" height="30" fill="#000"/>
<rect x="1152" y="115" width="11" height="9" fill="#000"/>
<rect x="1153" y="116" width="9" height="7" fill="#ff0000"/>
<rect x="1173" y="105" width="1" height="31" fill="#000"/>
<rect x="1168" y="114" width="11" height="15" fill="#000"/>
<rect x="1169" y="115" width="9" height="13" fill="#00ff00"/>
<rect x="1189" y="59" width="1" height="76" fill="#000"/>
<rect x="1184" y="91" width="11" height="38" fill="#000"/>
<rect x="1185" y="92" width="9" height="36" fill="#ff0000"/>
<rect x="1205" y="82" width="1" height="54" fill="#000"/>
<rect x="1200" y="90" width="11" height="1" fill="#000"/>
<rect x="1221" y="71" width="1" height="58" fill="#000"/>
<rect x="1216" y="90" width="11" height="18" fill="#000"/>
<rect x="1217" y="91" width="9" height="16" fill="#00ff00"/>
<rect x="1237" y="81" width="1" height="181" fill="#000"/>
<rect x="1232" y="107" width="11" height="76" fill="#000"/>
<rect x="1233" y="108" width="9" height="74" fill="#00ff00"/>
<rect x="1253" y="159" width="1" height="54" fill="#000"/>
<rect x="1248" y="181" width="11" height="11" fill="#000"/>
<rect x="1249" y="182" width="9" height="9" fill="#00ff00"/>
<rect x="1269" y="177" width="1" height="53" fill="#000"/>
<rect x="1264" y="191" width="11" height="17" fill="#000"/>
<rect x="1265" y="192" width="9" height="15" fill="#00ff00"/>
<rect x="1285" y="173" width="1" height="51" fill="#000"/>
<rect x="1280" y="180" width="11" height="28" fill="#000"/>
<rect x="1281" y="181" width="9" height="26" fill="#ff0000"/>
<rect x="1301" y="162" width="1" height="59" fill="#000"/>
<rect x="1296" y="180" width="11" height="38" fill="#000"/>
<rect x="1297" y="181" width="9" height="36" fill="#00ff00"/>
<rect x="1317" y="163" width="1" height="71" fill="#000"/>
<rect x="1312" y="168" width="11" height="50" fill="#000"/>
<rect x="1313" y="169" width="9" height="48" fill="#ff0000"/>
<rect x="1333" y="160" width="1" height="212" fill="#000"/>
<rect x="1328" y="168" width="11" height="149" fill="#000"/>
<rect x="1329" y="169" width="9" height="147" fill="#00ff00"/>
<rect x="1349" y="251" width="1" height="68" fill="#000"/>
<rect x="1344" y="261" width="11" height="54" fill="#000"/>
<rect x="1345" y="262" width="9" height="52" fill="#ff0000"/>
<rect x="1365" y="259" width="1" height="30" fill="#000"/>
<rect x="1360" y="261" width="11" height="28" fill="#000"/>
<rect x="1361" y="262" width="9" height="26" fill="#00ff00"/>
<rect x="5" y="200" width="1639" height="2" fill="#ff0000"/>
<rect x="5" y="234" width="1639" height="2" fill="#dc143c"/>
<rect x="5" y="270" width="1639" height="2" fill="#ffa500"/>
<rect x="5" y="322" width="1639" height="2" fill="#0000ff"/>
<rect x="5" y="350" width="1639" height="2" fill="#0000ff"/>
</g>
<rect x="4" y="198" width="6" height="6" fill="#ff0000"/>
<rect x="6" y="200" width="2" height="2" fill="#fff"/>
<rect x="1638" y="198" width="6" height="6" fill="#ff0000"/>
<rect x="1640" y="200" width="2" height="2" fill="#fff"/>
<rect x="4" y="232" width="6" height="6" fill="#dc143c"/>
<rect x="6" y="234" width="2" height="2" fill="#fff"/>
<rect x="1638" y="232" width="6" height="6" fill="#dc143c"/>
<rect x="1640" y="234" width="2" height="2" fill="#fff"/>
<rect x="4" y="268" width="6" height="6" fill="#ffa500"/>
<rect x="6" y="270" width="2" height="2" fill="#fff"/>
<rect x="1638" y="268" width="6" height="6" fill="#ffa500"/>
<rect x="1640" y="270" width="2" height="2" fill="#fff"/>
<rect x="4" y="320" width="6" height="6" fill="#0000ff"/>
<rect x="6" y="322" width="2" height="2" fill="#fff"/>
<rect x="1638" y="320" width="6" height="6" fill="#0000ff"/>
<rect x="1640" y="322" width="2" height="2" fill="#fff"/>
<rect x="4" y="348" width="6" height="6" fill="#0000ff"/>
<rect x="6" y="350" width="2" height="2" fill="#fff"/>
<rect x="1638" y="348" width="6" height="6" fill="#0000ff"/>
<rect x="1640" y="350" width="2" height="2" fill="#fff"/>
<g shape-rendering="geometricPrecision">
<line x1="1361" y1="156" x2="1428" y2="248" stroke="#4e9a2e" stroke-width="3.2"/>
<polygon points="1436.3,259.3 1418.6,250 1434,240" fill="#4e9a2e"/>
</g>
<rect x="1392" y="30" width="9" height="1" fill="#000"/>
<rect x="1393" y="31" width="7" height="1" fill="#000"/>
<rect x="1394" y="32" width="5" height="1" fill="#000"/>
<rect x="1395" y="33" width="3" height="1" fill="#000"/>
<rect x="1396" y="34" width="1" height="1" fill="#000"/>
<g font-family="'Liberation Sans', sans-serif" shape-rendering="geometricPrecision" text-rendering="geometricPrecision">
<rect x="1645" y="36" width="2" height="1" fill="#000"/>
<text x="1650.3" y="40" fill="#000" stroke="#000" stroke-width="0.2" font-size="10px" text-anchor="start" textLength="32.6" lengthAdjust="spacingAndGlyphs">134.195</text>
<rect x="1645" y="69" width="2" height="1" fill="#000"/>
<text x="1650.3" y="73" fill="#000" stroke="#000" stroke-width="0.2" font-size="10px" text-anchor="start" textLength="32.6" lengthAdjust="spacingAndGlyphs">133.980</text>
<rect x="1645" y="102" width="2" height="1" fill="#000"/>
<text x="1650.3" y="106" fill="#000" stroke="#000" stroke-width="0.2" font-size="10px" text-anchor="start" textLength="32.6" lengthAdjust="spacingAndGlyphs">133.765</text>
<rect x="1645" y="135" width="2" height="1" fill="#000"/>
<text x="1650.3" y="139" fill="#000" stroke="#000" stroke-width="0.2" font-size="10px" text-anchor="start" textLength="32.6" lengthAdjust="spacingAndGlyphs">133.550</text>
<rect x="1645" y="168" width="2" height="1" fill="#000"/>
<text x="1650.3" y="172" fill="#000" stroke="#000" stroke-width="0.2" font-size="10px" text-anchor="start" textLength="32.6" lengthAdjust="spacingAndGlyphs">133.335</text>
<rect x="1645" y="201" width="2" height="1" fill="#000"/>
<text x="1650.3" y="205" fill="#000" stroke="#000" stroke-width="0.2" font-size="10px" text-anchor="start" textLength="32.6" lengthAdjust="spacingAndGlyphs">133.120</text>
<rect x="1645" y="234" width="2" height="1" fill="#000"/>
<text x="1650.3" y="238" fill="#000" stroke="#000" stroke-width="0.2" font-size="10px" text-anchor="start" textLength="32.6" lengthAdjust="spacingAndGlyphs">132.905</text>
<rect x="1645" y="267" width="2" height="1" fill="#000"/>
<text x="1650.3" y="271" fill="#000" stroke="#000" stroke-width="0.2" font-size="10px" text-anchor="start" textLength="32.6" lengthAdjust="spacingAndGlyphs">132.690</text>
<rect x="1645" y="300" width="2" height="1" fill="#000"/>
<text x="1650.3" y="304" fill="#000" stroke="#000" stroke-width="0.2" font-size="10px" text-anchor="start" textLength="32.6" lengthAdjust="spacingAndGlyphs">132.475</text>
<rect x="1645" y="333" width="2" height="1" fill="#000"/>
<text x="1650.3" y="337" fill="#000" stroke="#000" stroke-width="0.2" font-size="10px" text-anchor="start" textLength="32.6" lengthAdjust="spacingAndGlyphs">132.260</text>
<rect x="1645" y="366" width="2" height="1" fill="#000"/>
<text x="1650.3" y="370" fill="#000" stroke="#000" stroke-width="0.2" font-size="10px" text-anchor="start" textLength="32.6" lengthAdjust="spacingAndGlyphs">132.045</text>
<rect x="1645" y="399" width="2" height="1" fill="#000"/>
<text x="1650.3" y="403" fill="#000" stroke="#000" stroke-width="0.2" font-size="10px" text-anchor="start" textLength="32.6" lengthAdjust="spacingAndGlyphs">131.830</text>
<rect x="1645" y="432" width="2" height="1" fill="#000"/>
<text x="1650.3" y="436" fill="#000" stroke="#000" stroke-width="0.2" font-size="10px" text-anchor="start" textLength="32.6" lengthAdjust="spacingAndGlyphs">131.615</text>
<rect x="1645" y="465" width="2" height="1" fill="#000"/>
<text x="1650.3" y="469" fill="#000" stroke="#000" stroke-width="0.2" font-size="10px" text-anchor="start" textLength="32.6" lengthAdjust="spacingAndGlyphs">131.400</text>
<rect x="1645" y="498" width="2" height="1" fill="#000"/>
<text x="1650.3" y="502" fill="#000" stroke="#000" stroke-width="0.2" font-size="10px" text-anchor="start" textLength="32.6" lengthAdjust="spacingAndGlyphs">131.185</text>
<rect x="1645" y="531" width="2" height="1" fill="#000"/>
<text x="1650.3" y="535" fill="#000" stroke="#000" stroke-width="0.2" font-size="10px" text-anchor="start" textLength="32.6" lengthAdjust="spacingAndGlyphs">130.970</text>
<rect x="1645" y="564" width="2" height="1" fill="#000"/>
<text x="1650.3" y="568" fill="#000" stroke="#000" stroke-width="0.2" font-size="10px" text-anchor="start" textLength="32.6" lengthAdjust="spacingAndGlyphs">130.755</text>
<rect x="1645" y="597" width="2" height="1" fill="#000"/>
<text x="1650.3" y="601" fill="#000" stroke="#000" stroke-width="0.2" font-size="10px" text-anchor="start" textLength="32.6" lengthAdjust="spacingAndGlyphs">130.540</text>
<rect x="1645" y="630" width="2" height="1" fill="#000"/>
<text x="1650.3" y="634" fill="#000" stroke="#000" stroke-width="0.2" font-size="10px" text-anchor="start" textLength="32.6" lengthAdjust="spacingAndGlyphs">130.325</text>
<rect x="1646" y="195" width="41" height="11" fill="#ff0000"/>
<text x="1650.3" y="204" fill="#fff" stroke="#fff" stroke-width="0.2" font-size="10px" text-anchor="start" textLength="32.6" lengthAdjust="spacingAndGlyphs">133.118</text>
<rect x="1646" y="229" width="41" height="11" fill="#dc143c"/>
<text x="1650.3" y="238" fill="#fff" stroke="#fff" stroke-width="0.2" font-size="10px" text-anchor="start" textLength="32.6" lengthAdjust="spacingAndGlyphs">132.897</text>
<rect x="1646" y="265" width="41" height="11" fill="#ffa500"/>
<text x="1650.3" y="274" fill="#fff" stroke="#fff" stroke-width="0.2" font-size="10px" text-anchor="start" textLength="32.6" lengthAdjust="spacingAndGlyphs">132.663</text>
<rect x="1646" y="283" width="41" height="11" fill="#000000"/>
<text x="1650.3" y="292" fill="#fff" stroke="#fff" stroke-width="0.2" font-size="10px" text-anchor="start" textLength="32.6" lengthAdjust="spacingAndGlyphs">132.554</text>
<rect x="1646" y="317" width="41" height="11" fill="#0000ff"/>
<text x="1650.3" y="326" fill="#fff" stroke="#fff" stroke-width="0.2" font-size="10px" text-anchor="start" textLength="32.6" lengthAdjust="spacingAndGlyphs">132.325</text>
<rect x="1646" y="345" width="41" height="11" fill="#0000ff"/>
<text x="1650.3" y="354" fill="#fff" stroke="#fff" stroke-width="0.2" font-size="10px" text-anchor="start" textLength="32.6" lengthAdjust="spacingAndGlyphs">132.143</text>
<rect x="8" y="36" width="7" height="1" fill="#000" shape-rendering="crispEdges"/>
<rect x="9" y="37" width="5" height="1" fill="#000" shape-rendering="crispEdges"/>
<rect x="10" y="38" width="3" height="1" fill="#000" shape-rendering="crispEdges"/>
<rect x="11" y="39" width="1" height="1" fill="#000" shape-rendering="crispEdges"/>
<text x="20" y="41" fill="#000" stroke="#000" stroke-width="0.2" font-size="10px" text-anchor="start" textLength="54.6" lengthAdjust="spacingAndGlyphs">USDJPY-,H4</text>
<text x="80.2" y="41" fill="#000" stroke="#000" stroke-width="0.2" font-size="10px" text-anchor="start" textLength="32.8" lengthAdjust="spacingAndGlyphs">132.727</text>
<text x="116.2" y="41" fill="#000" stroke="#000" stroke-width="0.2" font-size="10px" text-anchor="start" textLength="32.8" lengthAdjust="spacingAndGlyphs">132.739</text>
<text x="152.2" y="41" fill="#000" stroke="#000" stroke-width="0.2" font-size="10px" text-anchor="start" textLength="32.8" lengthAdjust="spacingAndGlyphs">132.552</text>
<text x="188.2" y="41" fill="#000" stroke="#000" stroke-width="0.2" font-size="10px" text-anchor="start" textLength="32.8" lengthAdjust="spacingAndGlyphs">132.554</text>
<text x="9" y="648" fill="#000" stroke="#000" stroke-width="0.2" font-size="10px" text-anchor="start" textLength="66" lengthAdjust="spacingAndGlyphs">MACD(12,26,9)</text>
<text x="78.4" y="648" fill="#000" stroke="#000" stroke-width="0.2" font-size="10px" text-anchor="start" textLength="27.6" lengthAdjust="spacingAndGlyphs">0.0484</text>
<text x="109" y="648" fill="#000" stroke="#000" stroke-width="0.2" font-size="10px" text-anchor="start" textLength="28.2" lengthAdjust="spacingAndGlyphs">0.2389</text>
<text x="9" y="751" fill="#000" stroke="#000" stroke-width="0.2" font-size="10px" text-anchor="start" textLength="32.4" lengthAdjust="spacingAndGlyphs">RSI(14)</text>
<text x="43.8" y="751" fill="#000" stroke="#000" stroke-width="0.2" font-size="10px" text-anchor="start" textLength="33.4" lengthAdjust="spacingAndGlyphs">44.7966</text>
<text x="1648" y="646" fill="#000" stroke="#000" stroke-width="0.2" font-size="10px" text-anchor="start" textLength="28" lengthAdjust="spacingAndGlyphs">0.5236</text>
<text x="1648" y="687" fill="#000" stroke="#000" stroke-width="0.2" font-size="10px" text-anchor="start" textLength="18" lengthAdjust="spacingAndGlyphs">0.00</text>
<text x="1648" y="733" fill="#000" stroke="#000" stroke-width="0.2" font-size="10px" text-anchor="start" textLength="26" lengthAdjust="spacingAndGlyphs">-0.585</text>
<rect x="1645" y="637" width="1" height="1" fill="#000"/>
<rect x="1645" y="683" width="1" height="1" fill="#000"/>
<rect x="1645" y="735" width="1" height="1" fill="#000"/>
<rect x="1645" y="740" width="1" height="1" fill="#000"/>
<rect x="1645" y="828" width="1" height="1" fill="#000"/>
<text x="1648" y="749" fill="#000" stroke="#000" stroke-width="0.2" font-size="10px" text-anchor="start" textLength="15.4" lengthAdjust="spacingAndGlyphs">100</text>
<text x="1647" y="761" fill="#000" stroke="#000" stroke-width="0.2" font-size="10px" text-anchor="start" textLength="10.3" lengthAdjust="spacingAndGlyphs">80</text>
<text x="1647" y="787" fill="#000" stroke="#000" stroke-width="0.2" font-size="10px" text-anchor="start" textLength="10.3" lengthAdjust="spacingAndGlyphs">50</text>
<text x="1648" y="818" fill="#000" stroke="#000" stroke-width="0.2" font-size="10px" text-anchor="start" textLength="10.3" lengthAdjust="spacingAndGlyphs">15</text>
<text x="1648" y="826" fill="#000" stroke="#000" stroke-width="0.2" font-size="10px" text-anchor="start" textLength="5" lengthAdjust="spacingAndGlyphs">0</text>
<rect x="5" y="829" width="1" height="3" fill="#000"/>
<text x="4.2" y="841" fill="#000" stroke="#000" stroke-width="0.2" font-size="10px" text-anchor="start" textLength="51.5" lengthAdjust="spacingAndGlyphs">24 Mar 2023</text>
<rect x="69" y="829" width="1" height="3" fill="#000"/>
<text x="68.2" y="841" fill="#000" stroke="#000" stroke-width="0.2" font-size="10px" text-anchor="start" textLength="55.2" lengthAdjust="spacingAndGlyphs">27 Mar 08:00</text>
<rect x="133" y="829" width="1" height="3" fill="#000"/>
<text x="132.2" y="841" fill="#000" stroke="#000" stroke-width="0.2" font-size="10px" text-anchor="start" textLength="55.2" lengthAdjust="spacingAndGlyphs">28 Mar 00:00</text>
<rect x="197" y="829" width="1" height="3" fill="#000"/>
<text x="196.2" y="841" fill="#000" stroke="#000" stroke-width="0.2" font-size="10px" text-anchor="start" textLength="55.2" lengthAdjust="spacingAndGlyphs">28 Mar 16:00</text>
<rect x="261" y="829" width="1" height="3" fill="#000"/>
<text x="260.2" y="841" fill="#000" stroke="#000" stroke-width="0.2" font-size="10px" text-anchor="start" textLength="55.2" lengthAdjust="spacingAndGlyphs">29 Mar 08:00</text>
<rect x="325" y="829" width="1" height="3" fill="#000"/>
<text x="324.2" y="841" fill="#000" stroke="#000" stroke-width="0.2" font-size="10px" text-anchor="start" textLength="55.2" lengthAdjust="spacingAndGlyphs">30 Mar 00:00</text>
<rect x="389" y="829" width="1" height="3" fill="#000"/>
<text x="388.2" y="841" fill="#000" stroke="#000" stroke-width="0.2" font-size="10px" text-anchor="start" textLength="55.2" lengthAdjust="spacingAndGlyphs">30 Mar 16:00</text>
<rect x="453" y="829" width="1" height="3" fill="#000"/>
<text x="452.2" y="841" fill="#000" stroke="#000" stroke-width="0.2" font-size="10px" text-anchor="start" textLength="55.2" lengthAdjust="spacingAndGlyphs">31 Mar 08:00</text>
<rect x="517" y="829" width="1" height="3" fill="#000"/>
<text x="516.2" y="841" fill="#000" stroke="#000" stroke-width="0.2" font-size="10px" text-anchor="start" textLength="49.2" lengthAdjust="spacingAndGlyphs">3 Apr 00:00</text>
<rect x="581" y="829" width="1" height="3" fill="#000"/>
<text x="580.2" y="841" fill="#000" stroke="#000" stroke-width="0.2" font-size="10px" text-anchor="start" textLength="49.2" lengthAdjust="spacingAndGlyphs">3 Apr 16:00</text>
<rect x="645" y="829" width="1" height="3" fill="#000"/>
<text x="644.2" y="841" fill="#000" stroke="#000" stroke-width="0.2" font-size="10px" text-anchor="start" textLength="49.2" lengthAdjust="spacingAndGlyphs">4 Apr 08:00</text>
<rect x="709" y="829" width="1" height="3" fill="#000"/>
<text x="708.2" y="841" fill="#000" stroke="#000" stroke-width="0.2" font-size="10px" text-anchor="start" textLength="49.2" lengthAdjust="spacingAndGlyphs">5 Apr 00:00</text>
<rect x="773" y="829" width="1" height="3" fill="#000"/>
<text x="772.2" y="841" fill="#000" stroke="#000" stroke-width="0.2" font-size="10px" text-anchor="start" textLength="49.2" lengthAdjust="spacingAndGlyphs">5 Apr 16:00</text>
<rect x="837" y="829" width="1" height="3" fill="#000"/>
<text x="836.2" y="841" fill="#000" stroke="#000" stroke-width="0.2" font-size="10px" text-anchor="start" textLength="49.2" lengthAdjust="spacingAndGlyphs">6 Apr 08:00</text>
<rect x="901" y="829" width="1" height="3" fill="#000"/>
<text x="900.2" y="841" fill="#000" stroke="#000" stroke-width="0.2" font-size="10px" text-anchor="start" textLength="49.2" lengthAdjust="spacingAndGlyphs">7 Apr 00:00</text>
<rect x="965" y="829" width="1" height="3" fill="#000"/>
<text x="964.2" y="841" fill="#000" stroke="#000" stroke-width="0.2" font-size="10px" text-anchor="start" textLength="49.2" lengthAdjust="spacingAndGlyphs">7 Apr 16:00</text>
<rect x="1029" y="829" width="1" height="3" fill="#000"/>
<text x="1028.2" y="841" fill="#000" stroke="#000" stroke-width="0.2" font-size="10px" text-anchor="start" textLength="54.2" lengthAdjust="spacingAndGlyphs">10 Apr 08:00</text>
<rect x="1093" y="829" width="1" height="3" fill="#000"/>
<text x="1092.2" y="841" fill="#000" stroke="#000" stroke-width="0.2" font-size="10px" text-anchor="start" textLength="54.2" lengthAdjust="spacingAndGlyphs">11 Apr 00:00</text>
<rect x="1157" y="829" width="1" height="3" fill="#000"/>
<text x="1156.2" y="841" fill="#000" stroke="#000" stroke-width="0.2" font-size="10px" text-anchor="start" textLength="54.2" lengthAdjust="spacingAndGlyphs">11 Apr 16:00</text>
<rect x="1221" y="829" width="1" height="3" fill="#000"/>
<text x="1220.2" y="841" fill="#000" stroke="#000" stroke-width="0.2" font-size="10px" text-anchor="start" textLength="54.2" lengthAdjust="spacingAndGlyphs">12 Apr 08:00</text>
<rect x="1285" y="829" width="1" height="3" fill="#000"/>
<text x="1284.2" y="841" fill="#000" stroke="#000" stroke-width="0.2" font-size="10px" text-anchor="start" textLength="54.2" lengthAdjust="spacingAndGlyphs">13 Apr 00:00</text>
<rect x="1349" y="829" width="1" height="3" fill="#000"/>
<text x="1348.2" y="841" fill="#000" stroke="#000" stroke-width="0.2" font-size="10px" text-anchor="start" textLength="54.2" lengthAdjust="spacingAndGlyphs">13 Apr 16:00</text>
</g>
<clipPath id="c2"><rect x="5" y="636" width="1639" height="100"/></clipPath>
<g clip-path="url(#c2)">
<rect x="4" y="683" width="3" height="49" fill="#00ff00"/>
<rect x="20" y="683" width="3" height="45" fill="#00ff00"/>
<rect x="36" y="683" width="3" height="44" fill="#00ff00"/>
<rect x="52" y="683" width="3" height="39" fill="#00ff00"/>
<rect x="68" y="683" width="3" height="32" fill="#00ff00"/>
<rect x="84" y="683" width="3" height="25" fill="#00ff00"/>
<rect x="100" y="683" width="3" height="19" fill="#00ff00"/>
<rect x="116" y="683" width="3" height="17" fill="#00ff00"/>
<rect x="132" y="683" width="3" height="19" fill="#00ff00"/>
<rect x="148" y="683" width="3" height="17" fill="#00ff00"/>
<rect x="164" y="683" width="3" height="18" fill="#00ff00"/>
<rect x="180" y="683" width="3" height="17" fill="#00ff00"/>
<rect x="196" y="683" width="3" height="17" fill="#00ff00"/>
<rect x="212" y="683" width="3" height="15" fill="#00ff00"/>
<rect x="228" y="683" width="3" height="9" fill="#00ff00"/>
<rect x="244" y="683" width="3" height="3" fill="#00ff00"/>
<rect x="260" y="678" width="3" height="5" fill="#00ff00"/>
<rect x="276" y="669" width="3" height="14" fill="#00ff00"/>
<rect x="292" y="661" width="3" height="22" fill="#00ff00"/>
<rect x="308" y="657" width="3" height="26" fill="#00ff00"/>
<rect x="324" y="653" width="3" height="30" fill="#00ff00"/>
<rect x="340" y="653" width="3" height="30" fill="#00ff00"/>
<rect x="356" y="651" width="3" height="32" fill="#00ff00"/>
<rect x="372" y="650" width="3" height="33" fill="#00ff00"/>
<rect x="388" y="650" width="3" height="33" fill="#00ff00"/>
<rect x="404" y="646" width="3" height="37" fill="#00ff00"/>
<rect x="420" y="646" width="3" height="37" fill="#00ff00"/>
<rect x="436" y="644" width="3" height="39" fill="#00ff00"/>
<rect x="452" y="643" width="3" height="40" fill="#00ff00"/>
<rect x="468" y="645" width="3" height="38" fill="#00ff00"/>
<rect x="484" y="647" width="3" height="36" fill="#00ff00"/>
<rect x="500" y="646" width="3" height="37" fill="#00ff00"/>
<rect x="516" y="644" width="3" height="39" fill="#00ff00"/>
<rect x="532" y="642" width="3" height="41" fill="#00ff00"/>
<rect x="548" y="646" width="3" height="37" fill="#00ff00"/>
<rect x="564" y="653" width="3" height="30" fill="#00ff00"/>
<rect x="580" y="658" width="3" height="25" fill="#00ff00"/>
<rect x="596" y="664" width="3" height="19" fill="#00ff00"/>
<rect x="612" y="664" width="3" height="19" fill="#00ff00"/>
<rect x="628" y="667" width="3" height="16" fill="#00ff00"/>
<rect x="644" y="666" width="3" height="17" fill="#00ff00"/>
<rect x="660" y="676" width="3" height="7" fill="#00ff00"/>
<rect x="676" y="683" width="3" height="1" fill="#00ff00"/>
<rect x="692" y="683" width="3" height="8" fill="#00ff00"/>
<rect x="708" y="683" width="3" height="12" fill="#00ff00"/>
<rect x="724" y="683" width="3" height="17" fill="#00ff00"/>
<rect x="740" y="683" width="3" height="20" fill="#00ff00"/>
<rect x="756" y="683" width="3" height="25" fill="#00ff00"/>
<rect x="772" y="683" width="3" height="27" fill="#00ff00"/>
<rect x="788" y="683" width="3" height="31" fill="#00ff00"/>
<rect x="804" y="683" width="3" height="32" fill="#00ff00"/>
<rect x="820" y="683" width="3" height="31" fill="#00ff00"/>
<rect x="836" y="683" width="3" height="29" fill="#00ff00"/>
<rect x="852" y="683" width="3" height="26" fill="#00ff00"/>
<rect x="868" y="683" width="3" height="23" fill="#00ff00"/>
<rect x="884" y="683" width="3" height="21" fill="#00ff00"/>
<rect x="900" y="683" width="3" height="18" fill="#00ff00"/>
<rect x="916" y="683" width="3" height="15" fill="#00ff00"/>
<rect x="932" y="683" width="3" height="14" fill="#00ff00"/>
<rect x="948" y="683" width="3" height="10" fill="#00ff00"/>
<rect x="964" y="683" width="3" height="6" fill="#00ff00"/>
<rect x="980" y="683" width="3" height="4" fill="#00ff00"/>
<rect x="996" y="679" width="3" height="4" fill="#00ff00"/>
<rect x="1012" y="679" width="3" height="4" fill="#00ff00"/>
<rect x="1028" y="673" width="3" height="10" fill="#00ff00"/>
<rect x="1044" y="662" width="3" height="21" fill="#00ff00"/>
<rect x="1060" y="655" width="3" height="28" fill="#00ff00"/>
<rect x="1076" y="651" width="3" height="32" fill="#00ff00"/>
<rect x="1092" y="648" width="3" height="35" fill="#00ff00"/>
<rect x="1108" y="648" width="3" height="35" fill="#00ff00"/>
<rect x="1124" y="648" width="3" height="35" fill="#00ff00"/>
<rect x="1140" y="646" width="3" height="37" fill="#00ff00"/>
<rect x="1156" y="644" width="3" height="39" fill="#00ff00"/>
<rect x="1172" y="643" width="3" height="40" fill="#00ff00"/>
<rect x="1188" y="642" width="3" height="41" fill="#00ff00"/>
<rect x="1204" y="641" width="3" height="42" fill="#00ff00"/>
<rect x="1220" y="642" width="3" height="41" fill="#00ff00"/>
<rect x="1236" y="645" width="3" height="38" fill="#00ff00"/>
<rect x="1252" y="650" width="3" height="33" fill="#00ff00"/>
<rect x="1268" y="655" width="3" height="28" fill="#00ff00"/>
<rect x="1284" y="657" width="3" height="26" fill="#00ff00"/>
<rect x="1300" y="662" width="3" height="21" fill="#00ff00"/>
<rect x="1316" y="663" width="3" height="20" fill="#00ff00"/>
<rect x="1332" y="671" width="3" height="12" fill="#00ff00"/>
<rect x="1348" y="675" width="3" height="8" fill="#00ff00"/>
<rect x="1364" y="679" width="3" height="4" fill="#00ff00"/>
<polyline points="5,729.9 21,729.9 37,729.7 53,729.5 69,728.5 85,725.5 101,722.4 117,718.5 133,714.6 149,711.4 165,708.2 181,705.2 197,702.3 213,701.0 229,699.7 245,697.1 261,694.5 277,691.6 293,686.2 309,682.4 325,677.4 341,670.4 357,665.9 373,662.6 389,659.0 405,654.3 421,652.2 437,650.3 453,648.1 469,647.7 485,646.7 501,646.7 517,645.5 533,645.1 549,645.1 565,645.8 581,647.0 597,650.0 613,652.2 629,654.5 645,656.2 661,660.2 677,664.0 693,668.0 709,674.4 725,678.4 741,682.2 757,687.4 773,692.1 789,696.8 805,701.1 821,705.1 837,707.5 853,708.9 869,708.9 885,708.9 901,708.7 917,707.5 933,705.6 949,703.7 965,700.4 981,697.5 997,694.5 1013,691.6 1029,688.6 1045,684.5 1061,679.1 1077,673.9 1093,669.6 1109,665.6 1125,661.6 1141,657.4 1157,653.7 1173,650.3 1189,647.2 1205,646.5 1221,644.8 1237,644.8 1253,644.8 1269,645.1 1285,647.4 1301,649.3 1317,651.2 1333,654.8 1349,658.8 1365,662.1 1366.2,662.1" fill="none" stroke="#ff0000" stroke-width="2" shape-rendering="crispEdges" stroke-linejoin="round"/>
</g>
<clipPath id="c3"><rect x="5" y="739" width="1639" height="89"/></clipPath>
<g clip-path="url(#c3)">
<line x1="6" y1="757.5" x2="1644" y2="757.5" stroke="#000" stroke-width="1" stroke-dasharray="3 3"/>
<line x1="6" y1="783.5" x2="1644" y2="783.5" stroke="#000" stroke-width="1" stroke-dasharray="3 3"/>
<line x1="6" y1="814.5" x2="1644" y2="814.5" stroke="#000" stroke-width="1" stroke-dasharray="3 3"/>
<polyline points="5,790.0 21,790.0 37,791.0 53,787.9 69,782.0 85,781.1 101,780.8 117,784.8 133,790.0 149,785.1 165,787.0 181,787.0 197,787.0 213,785.8 229,779.2 245,775.9 261,775.4 277,771.4 293,771.1 309,773.0 325,773.0 341,775.6 357,774.2 373,774.0 389,774.9 405,770.9 421,775.9 437,772.3 453,772.3 469,778.7 485,778.9 501,773.0 517,772.6 533,771.8 549,780.1 565,784.8 581,784.8 597,786.0 613,780.8 629,782.5 645,779.9 661,790.8 677,791.7 693,791.9 709,791.0 725,791.9 741,791.9 757,793.8 773,793.0 789,794.8 805,791.2 821,789.1 837,788.2 853,785.3 869,784.8 885,784.8 901,784.8 917,783.9 933,786.0 949,780.1 965,779.9 981,779.9 997,774.0 1013,782.0 1029,774.9 1045,768.5 1061,771.8 1077,772.8 1093,773.0 1109,775.9 1125,775.6 1141,772.1 1157,771.8 1173,772.8 1189,770.2 1205,770.2 1221,771.8 1237,780.1 1253,780.8 1269,781.8 1285,780.8 1301,783.0 1317,779.9 1333,790.8 1349,786.7 1365,787.9 1366.2,787.9" fill="none" stroke="#1e90ff" stroke-width="2" shape-rendering="crispEdges" stroke-linejoin="round"/>
</g>
</svg>
</body></html>
